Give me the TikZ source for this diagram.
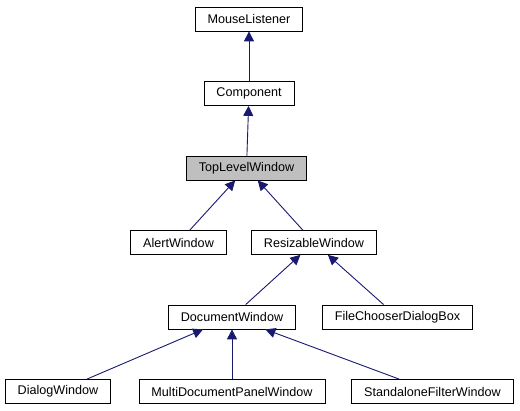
\documentclass[tikz,border=0pt]{standalone}
\usepackage{fontspec}
\setmainfont{Liberation Sans}
\usetikzlibrary{arrows.meta}
\definecolor{edgeblue}{HTML}{191970}
\definecolor{selgray}{HTML}{BFBFBF}
\tikzset{
  cls/.style={draw=black, fill=white, line width=0.8pt, inner xsep=12.5pt, minimum height=24pt, font=\fontsize{12.6}{15}\selectfont},
  inherit/.style={draw=edgeblue, line width=0.9pt, -{Triangle[length=10pt,width=10pt]}, color=edgeblue}
}

\begin{document}
\begin{tikzpicture}[x=1pt,y=-1pt]
\useasboundingbox (0,0) rectangle (520,411);
\node[cls] (ML) at (249,19) {MouseListener};
\node[cls] (Comp) at (249,93.5) {Component};
\node[cls, fill=selgray] (TLW) at (246.5,168) {TopLevelWindow};
\node[cls] (AW) at (178.5,242.5) {AlertWindow};
\node[cls] (RW) at (314,242.5) {ResizableWindow};
\node[cls] (DW) at (232,317) {DocumentWindow};
\node[cls] (FCDB) at (397.5,317) {FileChooserDialogBox};
\node[cls] (DlgW) at (58,391.5) {DialogWindow};
\node[cls] (MDPW) at (232,391.5) {MultiDocumentPanelWindow};
\node[cls] (SFW) at (432.5,391.5) {StandaloneFilterWindow};
\draw[inherit] (Comp) -- (ML);
\draw[inherit] (TLW) -- (Comp);
\draw[inherit] (AW) -- (TLW);
\draw[inherit] (RW) -- (TLW);
\draw[inherit] (DW) -- (RW);
\draw[inherit] (FCDB) -- (RW);
\draw[inherit] (DlgW) -- (DW);
\draw[inherit] (MDPW) -- (DW);
\draw[inherit] (SFW) -- (DW);
\end{tikzpicture}
\end{document}
